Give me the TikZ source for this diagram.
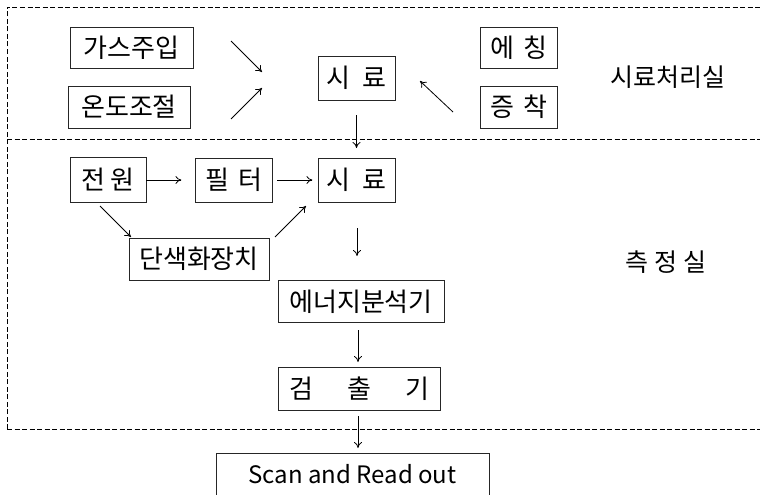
\documentclass[tikz,border=0pt]{standalone}
\usepackage{fontspec}
\setmainfont{Noto Sans CJK KR}
\usetikzlibrary{arrows.meta}
\begin{document}
\begin{tikzpicture}[x=1pt,y=-1pt,
  box/.style={draw=black!85,line width=0.8pt,inner sep=0pt,font=\fontsize{26}{26}\selectfont,anchor=center},
  lab/.style={inner sep=0pt,font=\fontsize{25}{25}\selectfont},
  arr/.style={line width=0.8pt,-{To[length=6pt,width=8pt]}},
  frame/.style={line width=0.9pt,dash pattern=on 5pt off 2.5pt}]
\clip (0,0) rectangle (760,495);
\useasboundingbox (0,0) rectangle (760,495);
% frame
\draw[frame] (7,429) -- (7,7) -- (760,7);
\draw[frame] (7,139) -- (760,139);
\draw[frame] (7,429) -- (760,429);
% top room
\node[box,minimum width=123pt,minimum height=41pt] (gas) at (131.5,47.5) {가스주입};
\node[box,minimum width=122pt,minimum height=42pt] (ondo) at (129,107) {온도조절};
\node[box,minimum width=77pt,minimum height=44pt] (sit) at (356.5,78) {시\hspace{0.45em}료};
\node[box,minimum width=77pt,minimum height=41pt] (etch) at (518.5,47.5) {에\hspace{0.35em}칭};
\node[box,minimum width=77pt,minimum height=42pt] (dep) at (518.5,107) {증\hspace{0.35em}착};
\node[lab] (room1) at (668,77) {시료처리실};
\coordinate (a1s) at (231,41);
\coordinate (a1e) at (262,72);
\coordinate (a2s) at (231,119);
\coordinate (a2e) at (262,88);
\coordinate (a3s) at (453,112);
\coordinate (a3e) at (420,81);
\draw[arr] (a1s) -- (a1e);
\draw[arr] (a2s) -- (a2e);
\draw[arr] (a3s) -- (a3e);
% lower room
\node[box,minimum width=76pt,minimum height=45pt] (pow) at (108,180) {전\hspace{0.2em}원};
\node[box,minimum width=77pt,minimum height=44pt] (fil) at (233.5,180) {필\hspace{0.35em}터};
\node[box,minimum width=77pt,minimum height=44pt] (sib) at (356.5,180) {시\hspace{0.45em}료};
\node[box,minimum width=140pt,minimum height=42pt] (mono) at (199,259) {단색화장치};
\node[box,minimum width=166pt,minimum height=42pt] (ener) at (361,301.5) {에너지분석기};
\node[box,minimum width=162pt,minimum height=43pt] (det) at (359.5,388.5) {검\hspace{1.3em}출\hspace{1.3em}기};
\node[box,minimum width=273pt,minimum height=60pt] (scan) at (352.5,483) {};
\node[lab,font=\fontsize{24}{24}\selectfont] (scantxt) at (352.5,474) {Scan and Read out};
\node[lab] (room2) at (666,262) {측\hspace{0.25em}정\hspace{0.25em}실};
\coordinate (s1) at (356.5,115);
\coordinate (s2) at (356.5,148);
\draw[arr] (s1) -- (s2);
\draw[arr] (pow.east) -- ++(35,0) coordinate (p1);
\draw[arr] ([xshift=5pt]fil.east) -- ++(35,0) coordinate (p2);
\coordinate (m1) at (100,206);
\coordinate (m2) at (131,237);
\draw[arr] (m1) -- (m2);
\coordinate (m3) at (275,237);
\coordinate (m4) at (306,206);
\draw[arr] (m3) -- (m4);
\coordinate (e1) at (357,228);
\coordinate (e2) at (357,256);
\draw[arr] (e1) -- (e2);
\coordinate (d1) at (358,330);
\coordinate (d2) at (358,362);
\draw[arr] (d1) -- (d2);
\coordinate (r1) at (358,416);
\coordinate (r2) at (358,448);
\draw[arr] (r1) -- (r2);
\end{tikzpicture}
\end{document}
